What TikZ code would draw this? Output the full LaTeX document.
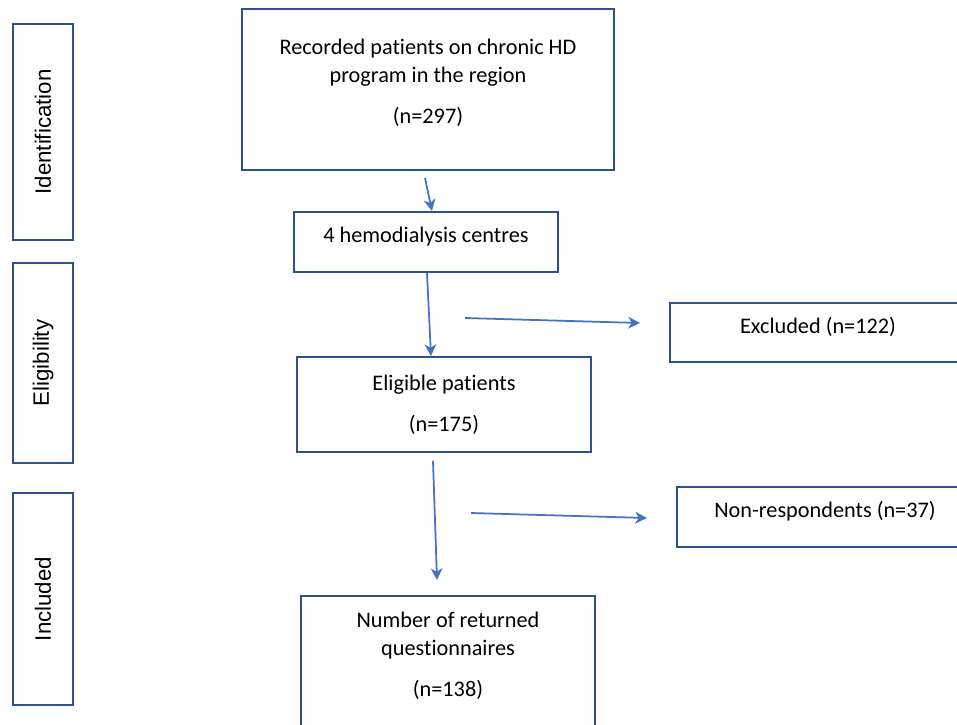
\documentclass[tikz,border=0pt]{standalone}
\usepackage{fontspec}
\setmainfont{Carlito}[Ligatures=NoCommon]
\newfontfamily\sidefont{Liberation Sans}[Ligatures=NoCommon]
\usetikzlibrary{positioning,arrows.meta,calc}

\definecolor{boxblue}{HTML}{2F528F}
\definecolor{arrowblue}{HTML}{4472C4}

\begin{document}
\begin{tikzpicture}[
        x=0.03cm, y=-0.03cm,
        every node/.style={font=\fontsize{19}{24}\selectfont},
        process/.style={rectangle, draw=boxblue, line width=1.7pt, align=center},
        phase/.style={rectangle, draw=boxblue, line width=1.7pt, minimum width=1.8cm},
        phasetext/.style={rotate=90, font=\sidefont\fontsize{19}{24}\selectfont},
        line/.style={draw=arrowblue, line width=1.5pt, -{Stealth[length=10pt,width=10pt,inset=3pt]}}
    ]
        \useasboundingbox (0,0) rectangle (957,724);
        % phase labels on the left
        \node[phase, minimum height=6.48cm] (ident) at (43,132) {};
        \node[phasetext] (identtext) at (ident.center) {Identification};
        \node[phase, minimum height=6cm] (elig) at (43,363) {};
        \node[phasetext] (eligtext) at (elig.center) {Eligibility};
        \node[phase, minimum height=6.36cm] (incl) at (43,599) {};
        \node[phasetext] (incltext) at (incl.center) {Included};
        % main column
        \node[process, minimum width=11.16cm, minimum height=4.83cm] (recorded) at (428,89.5) {};
        \node[align=center] (recordedtext) at (428,83) {Recorded patients on chronic HD\\program in the region\\[11pt](n=297)};
        \node[process, minimum width=7.92cm, minimum height=1.8cm] (centres) at (426,242) {};
        \node (centrestext) at (426,237) {4 hemodialysis centres};
        \node[process, minimum width=8.82cm, minimum height=2.85cm] (eligible) at (444,404.5) {Eligible patients\\[11pt](n=175)};
        \node[process, minimum width=8.82cm, minimum height=4.32cm] (number) at (448,668) {};
        \node[align=center] (numbertext) at (448,656) {Number of returned\\questionnaires\\[11pt](n=138)};
        % side boxes
        \node[process, minimum width=8.88cm, minimum height=1.77cm] (excluded) at (818,332.5) {};
        \node (excludedtext) at (818,327) {Excluded (n=122)};
        \node[process, minimum width=8.88cm, minimum height=1.8cm] (nonresp) at (825,517) {};
        \node (nonresptext) at (825,511) {Non-respondents (n=37)};
        % arrows
        \coordinate (c1) at (425,178);
        \coordinate (c3) at (465,318);
        \coordinate (c5) at (471,513);
        \draw[line] (c1) -- ($(centres.north)+(6,0)$);
        \draw[line] ($(centres.south)+(1,0)$) -- ($(eligible.north)+(-13,0)$);
        \draw[line] (c3) -- ($(excluded.west)+(-29,-9.5)$);
        \draw[line] ($(eligible.south)+(-11,8)$) -- ($(number.north)+(-11,-15)$);
        \draw[line] (c5) -- ($(nonresp.west)+(-29,1)$);
    \end{tikzpicture}
\end{document}
